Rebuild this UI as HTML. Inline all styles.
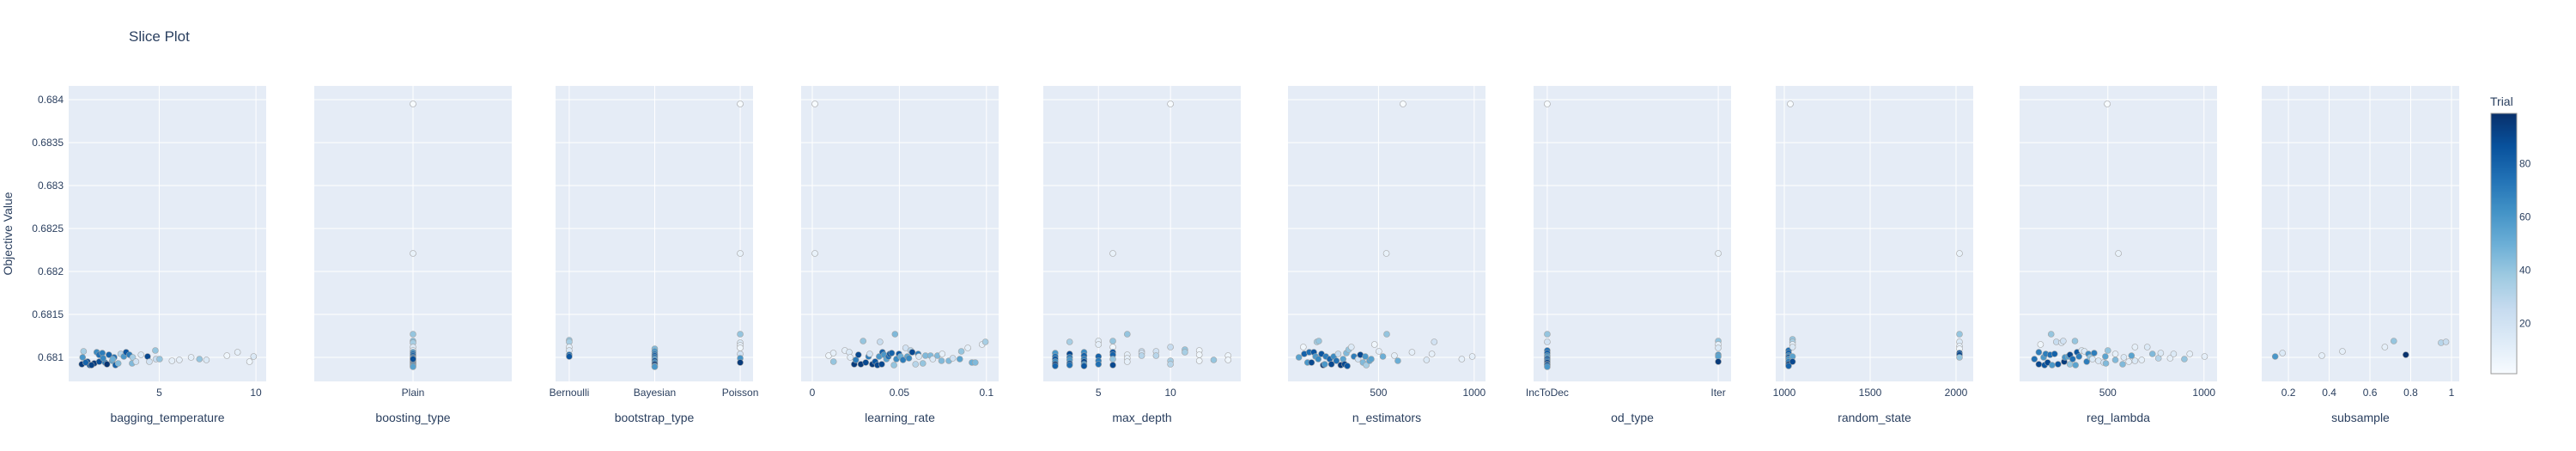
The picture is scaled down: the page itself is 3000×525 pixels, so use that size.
<!DOCTYPE html>
<html><head><meta charset="utf-8">
<style>
html,body{margin:0;padding:0;background:#fff;}
svg{display:block;font-family:"Liberation Sans",Arial,sans-serif;}
</style></head>
<body>
<svg id="chart" width="3000" height="525" viewBox="0 0 3000 525" xmlns="http://www.w3.org/2000/svg">
<text x="150" y="48" font-size="17" fill="#2a3f5f">Slice Plot</text>
<text transform="translate(14,272) rotate(-90)" text-anchor="middle" font-size="14" fill="#2a3f5f">Objective Value</text>
<g id="panels"></g>
<g id="cbar"></g>
</svg>
<script>
// ---------- data ----------
const yTicks = [0.681, 0.6815, 0.682, 0.6825, 0.683, 0.6835, 0.684];
const yTickLabels = ["0.681", "0.6815", "0.682", "0.6825", "0.683", "0.6835", "0.684"];
const paramNames = ["bagging_temperature","boosting_type","bootstrap_type","learning_rate","max_depth","n_estimators","od_type","random_state","reg_lambda","subsample"];

const bagX = [1.0,1.09,1.04,1.29,1.41,1.64,1.77,1.89,2.06,2.2,2.4,2.57,2.67,2.74,2.88,3.01,3.17,3.29,3.46,3.6,3.63,3.8,4.06,4.4,4.49,4.8,4.83,5.02,5.66,6.04,6.65,7.08,7.44,8.5,9.05,9.67,9.88,1.5,1.9,2.3,2.6,1.2,2.1];
const bagY = [0.68092,0.68107,0.681,0.68095,0.68091,0.68093,0.68106,0.68103,0.68105,0.68094,0.68103,0.68096,0.681,0.68091,0.68093,0.68104,0.68101,0.68106,0.68103,0.68093,0.681,0.68095,0.68103,0.68101,0.68095,0.68108,0.68098,0.68098,0.68096,0.68097,0.681,0.68098,0.68097,0.68102,0.68106,0.68095,0.68101,0.68091,0.68095,0.68092,0.68098,0.68094,0.68099];
const bagT = [95,35,60,90,85,95,65,75,70,70,80,55,75,80,45,30,60,85,70,45,35,20,15,90,20,40,25,40,10,10,10,40,15,5,10,5,15,92,88,97,50,80,66];

const boostX = ["Plain","Plain","Plain","Plain","Plain","Plain","Plain","Plain","Plain","Plain","Plain","Plain","Plain","Plain","Plain","Plain","Plain","Plain","Plain","Plain","Plain","Plain"];
const boostY = [0.68395,0.68221,0.68127,0.68119,0.68117,0.68112,0.68108,0.68106,0.68104,0.68102,0.681,0.68099,0.68097,0.68096,0.68095,0.68094,0.68093,0.68092,0.68091,0.6809,0.68089,0.68098];
const boostT = [1,8,40,45,35,15,10,60,75,80,85,70,60,50,90,65,95,80,75,60,55,88];

const bootX = ["Bernoulli","Bernoulli","Bernoulli","Bernoulli","Bernoulli","Bernoulli","Bayesian","Bayesian","Bayesian","Bayesian","Bayesian","Bayesian","Bayesian","Bayesian","Bayesian","Bayesian","Bayesian","Poisson","Poisson","Poisson","Poisson","Poisson","Poisson","Poisson","Poisson","Poisson"];
const bootY = [0.6812,0.68118,0.68112,0.68108,0.68103,0.68101,0.6811,0.68107,0.68104,0.68102,0.681,0.68098,0.68096,0.68094,0.68092,0.6809,0.68089,0.68395,0.68221,0.68127,0.68117,0.68114,0.68111,0.68104,0.68099,0.68094];
const bootT = [40,35,10,15,75,85,45,60,70,80,75,55,85,65,95,70,60,1,8,40,15,10,5,20,60,95];

const lrX = [0.0015,0.0015,0.0094,0.0121,0.0122,0.0187,0.0212,0.0218,0.0241,0.025,0.0265,0.0279,0.0292,0.0307,0.0323,0.033,0.0345,0.0361,0.0374,0.0384,0.0389,0.0399,0.0403,0.0412,0.0426,0.0437,0.0445,0.0456,0.0469,0.0475,0.0483,0.0498,0.0507,0.0521,0.0536,0.0546,0.0555,0.0565,0.0574,0.0593,0.0608,0.0612,0.0635,0.065,0.0679,0.0692,0.0719,0.0746,0.0742,0.0784,0.0807,0.0847,0.0856,0.0893,0.0917,0.0936,0.0975,0.0994];
const lrY = [0.68395,0.68221,0.68102,0.68105,0.68095,0.68108,0.68106,0.681,0.68092,0.68097,0.68103,0.68092,0.68119,0.68094,0.68101,0.68104,0.68092,0.68095,0.68091,0.68101,0.68118,0.68092,0.68106,0.68103,0.68098,0.68101,0.68104,0.68105,0.68091,0.68127,0.68098,0.68104,0.68101,0.68097,0.68111,0.68101,0.68099,0.68108,0.68106,0.68092,0.68104,0.68101,0.68093,0.68102,0.68102,0.68098,0.68102,0.68104,0.68096,0.68096,0.68099,0.68098,0.68107,0.68111,0.68094,0.68094,0.68115,0.68118];
const lrT = [1,8,5,10,40,10,15,10,95,70,90,95,40,90,70,20,95,85,90,60,25,90,80,60,55,75,85,80,40,45,65,85,50,70,20,55,65,30,90,30,70,15,40,45,45,15,45,10,45,45,20,55,40,10,50,45,10,35];

const mdX = [10,6,2,2,2,2,2,2,3,3,3,3,3,3,4,4,4,4,4,4,5,5,5,5,5,6,6,6,6,6,6,7,7,7,7,8,8,8,9,9,10,10,10,11,11,12,12,12,13,14,14];
const mdY = [0.68395,0.68221,0.68105,0.68101,0.68098,0.68095,0.68092,0.6809,0.68118,0.68104,0.681,0.68097,0.68093,0.68091,0.68106,0.68102,0.68098,0.68095,0.68092,0.6809,0.68119,0.68115,0.68101,0.68096,0.68092,0.68119,0.68112,0.68106,0.68103,0.68098,0.68091,0.68127,0.68103,0.68099,0.68095,0.68107,0.68105,0.68102,0.68107,0.68102,0.68112,0.68096,0.68092,0.68109,0.68106,0.68108,0.68103,0.68096,0.68097,0.68102,0.68097];
const mdT = [1,8,60,75,85,65,95,80,35,90,70,60,85,75,65,80,70,90,60,85,10,10,80,70,75,40,5,85,80,40,90,40,10,10,10,25,20,30,20,30,25,35,30,40,35,5,5,5,40,5,5];

const neX = [628,541,107,84,112,129,138,150,162,171,178,188,185,202,211,219,225,245,254,266,280,289,303,315,323,332,337,344,358,372,393,405,419,431,436,453,462,479,502,523,543,583,601,675,751,779,791,935,990];
const neY = [0.68395,0.68221,0.68112,0.681,0.68104,0.68094,0.68106,0.68094,0.68106,0.68101,0.68118,0.68119,0.68098,0.68104,0.68091,0.68092,0.68101,0.68098,0.68092,0.68101,0.68096,0.68104,0.68091,0.68098,0.68092,0.68105,0.6809,0.68109,0.68112,0.68101,0.68098,0.68103,0.68094,0.68101,0.68091,0.68096,0.68098,0.68115,0.68107,0.68101,0.68127,0.68102,0.68096,0.68106,0.68097,0.68104,0.68118,0.68098,0.68101];
const neT = [1,8,5,55,80,60,75,90,85,60,35,40,65,85,95,60,70,80,90,65,75,25,95,55,90,45,85,40,15,70,20,90,45,60,35,55,55,5,10,50,40,10,50,10,15,10,20,10,10];

const odX = ["IncToDec","IncToDec","IncToDec","IncToDec","IncToDec","IncToDec","IncToDec","IncToDec","IncToDec","IncToDec","IncToDec","IncToDec","IncToDec","Iter","Iter","Iter","Iter","Iter","Iter","Iter"];
const odY = [0.68395,0.68127,0.68118,0.68108,0.68105,0.68102,0.681,0.68098,0.68096,0.68094,0.68092,0.68091,0.68089,0.68221,0.68119,0.68115,0.68111,0.68103,0.68101,0.68095];
const odT = [1,40,20,75,80,65,60,85,70,90,95,80,60,8,40,10,15,60,55,95];

const rsX = [1035,2020,1025,1025,1025,1025,1025,1025,1025,1025,1048,1048,1048,1048,1048,1048,2020,2020,2020,2020,2020,2020,2020];
const rsY = [0.68395,0.68221,0.68108,0.68105,0.68102,0.681,0.68098,0.68095,0.68092,0.6809,0.68121,0.68118,0.68115,0.68112,0.68101,0.68095,0.68127,0.68118,0.68113,0.6811,0.68105,0.68103,0.681];
const rsT = [1,8,75,80,65,85,60,70,95,80,40,35,10,15,55,90,40,15,10,5,85,90,40];

const rlX = [497,555,118,141,141,150,166,171,177,187,200,205,210,223,232,241,259,268,273,277,294,303,303,317,329,332,340,350,364,378,390,399,408,420,429,451,478,487,490,500,539,539,577,583,609,623,641,641,676,705,732,763,775,824,842,898,926,1003];
const rlY = [0.68395,0.68221,0.68098,0.68106,0.68092,0.68115,0.681,0.68091,0.68104,0.68094,0.68103,0.68127,0.68091,0.68104,0.68118,0.68092,0.68117,0.68119,0.68095,0.681,0.68101,0.68092,0.68103,0.68098,0.68119,0.68091,0.68106,0.68101,0.68108,0.68107,0.68095,0.68104,0.681,0.68098,0.68105,0.68096,0.68094,0.68101,0.68093,0.68108,0.68104,0.68097,0.68092,0.681,0.68095,0.68102,0.68112,0.68096,0.68097,0.68112,0.68104,0.68099,0.68105,0.68099,0.68104,0.68098,0.68104,0.68101];
const rlT = [1,8,75,70,90,5,60,85,70,90,75,40,60,80,25,85,15,20,95,60,55,40,90,75,40,55,85,70,15,15,70,65,40,15,70,15,20,55,45,40,10,45,45,15,10,55,10,15,10,15,45,30,15,10,15,40,10,10];

const ssX = [0.135,0.171,0.364,0.465,0.673,0.717,0.776,0.949,0.973];
const ssY = [0.68101,0.68105,0.68102,0.68107,0.68112,0.68119,0.68103,0.68117,0.68118];
const ssT = [60,15,10,10,10,40,98,30,25];

const cbTicks = [20, 40, 60, 80];

// ---------- layout ----------
const NS = "http://www.w3.org/2000/svg";
const plotTop = 100, plotBot = 444;
const yMin = 0.68072, yMax = 0.68416;
const panelLeft = [80,366,647,933,1215,1500,1786,2068,2352,2634];
const panelW = 230;
const panels = [
  {type:"lin", range:[0.32,10.53], ticks:[5,10], labels:["5","10"], xs:bagX, ys:bagY, ts:bagT},
  {type:"cat", cats:["Plain"], range:[-1,1], xs:boostX, ys:boostY, ts:boostT},
  {type:"cat", cats:["Bernoulli","Bayesian","Poisson"], range:[-0.16,2.15], xs:bootX, ys:bootY, ts:bootT},
  {type:"lin", range:[-0.0064,0.107], ticks:[0,0.05,0.1], labels:["0","0.05","0.1"], xs:lrX, ys:lrY, ts:lrT},
  {type:"lin", range:[1.17,14.88], ticks:[5,10], labels:["5","10"], xs:mdX, ys:mdY, ts:mdT},
  {type:"lin", range:[27,1059], ticks:[500,1000], labels:["500","1000"], xs:neX, ys:neY, ts:neT},
  {type:"cat", cats:["IncToDec","Iter"], range:[-0.08,1.075], xs:odX, ys:odY, ts:odT},
  {type:"lin", range:[950,2100], ticks:[1000,1500,2000], labels:["1000","1500","2000"], xs:rsX, ys:rsY, ts:rsT},
  {type:"lin", range:[41,1068], ticks:[500,1000], labels:["500","1000"], xs:rlX, ys:rlY, ts:rlT},
  {type:"lin", range:[0.069,1.038], ticks:[0.2,0.4,0.6,0.8,1], labels:["0.2","0.4","0.6","0.8","1"], xs:ssX, ys:ssY, ts:ssT}
];
const stops = ["#f7fbff","#deebf7","#c6dbef","#9ecae1","#6baed6","#4292c6","#2171b5","#08519c","#08306b"];
const tMin = 1, tMax = 99;

function hex2rgb(h){return [parseInt(h.slice(1,3),16),parseInt(h.slice(3,5),16),parseInt(h.slice(5,7),16)];}
function color(t){
  let f = Math.max(0,Math.min(1,(t-tMin)/(tMax-tMin)))*(stops.length-1);
  let i = Math.min(stops.length-2, Math.floor(f)), r = f-i;
  let a = hex2rgb(stops[i]), b = hex2rgb(stops[i+1]);
  return "rgb("+a.map((v,k)=>Math.round(v+(b[k]-v)*r)).join(",")+")";
}
function yScale(v){return plotBot - (v-yMin)/(yMax-yMin)*(plotBot-plotTop);}
function mk(tag, attrs, parent){
  const e = document.createElementNS(NS, tag);
  for (const k in attrs) e.setAttribute(k, attrs[k]);
  parent.appendChild(e); return e;
}

const root = document.getElementById("panels");
panels.forEach((p, pi) => {
  const L = panelLeft[pi];
  const g = mk("g", {}, root);
  
  
  const bg = mk("rect", {x:L, y:plotTop, width:panelW, height:plotBot-plotTop, fill:"#E5ECF6"}, g);
  
  
  const xScale = (v) => {
    let n = p.type === "cat" ? p.cats.indexOf(v) : v;
    return L + (n - p.range[0])/(p.range[1]-p.range[0])*panelW;
  };
  // y grid
  yTicks.forEach((t, ti) => {
    const gl = mk("line", {x1:L, x2:L+panelW, y1:yScale(t), y2:yScale(t), stroke:"#fff", "stroke-width":1}, g);
    
    
    if (pi === 0) {
      const tl = mk("text", {x:L-6, y:yScale(t)+4, "text-anchor":"end", "font-size":12, fill:"#2a3f5f"}, g);
      tl.textContent = yTickLabels[ti];
      
      
    }
  });
  // x grid + ticks
  const tv = p.type === "cat" ? p.cats : p.ticks;
  const tl = p.type === "cat" ? p.cats : p.labels;
  tv.forEach((t, ti) => {
    const x = xScale(t);
    const gl = mk("line", {x1:x, x2:x, y1:plotTop, y2:plotBot, stroke:"#fff", "stroke-width":1}, g);
    
    
    const lab = mk("text", {x:x, y:461, "text-anchor":"middle", "font-size":12, fill:"#2a3f5f"}, g);
    lab.textContent = tl[ti];
    
    
  });
  const title = mk("text", {x:L+panelW/2, y:491, "text-anchor":"middle", "font-size":14, fill:"#2a3f5f"}, g);
  title.textContent = paramNames[pi];
  
  
  // points
  p.xs.forEach((xv, k) => {
    const c = mk("circle", {cx:xScale(xv), cy:yScale(p.ys[k]), r:3.5, fill:color(p.ts[k]), stroke:"#a0a0a0", "stroke-width":0.6}, g);
    
    
  });
});

// colorbar
const cb = document.getElementById("cbar");
const cbTop = 132, cbBot = 435, cbL = 2901, cbW = 30;
const defs = mk("defs", {}, cb);
const grad = mk("linearGradient", {id:"cbg", x1:0, y1:1, x2:0, y2:0}, defs);
stops.forEach((s, i) => mk("stop", {offset:(i/(stops.length-1)), "stop-color":s}, grad));
const cbr = mk("rect", {x:cbL, y:cbTop, width:cbW, height:cbBot-cbTop, fill:"url(#cbg)", stroke:"#999", "stroke-width":1}, cb);


const cbt = mk("text", {x:2900, y:123, "font-size":14, fill:"#2a3f5f"}, cb);
cbt.textContent = "Trial";


cbTicks.forEach(t => {
  const y = cbBot - (t - tMin)/(tMax - tMin)*(cbBot - cbTop);
  const tx = mk("text", {x:cbL+cbW+3, y:y+4, "font-size":12, fill:"#2a3f5f"}, cb);
  tx.textContent = String(t);
  
  
});
</script>
</body></html>
